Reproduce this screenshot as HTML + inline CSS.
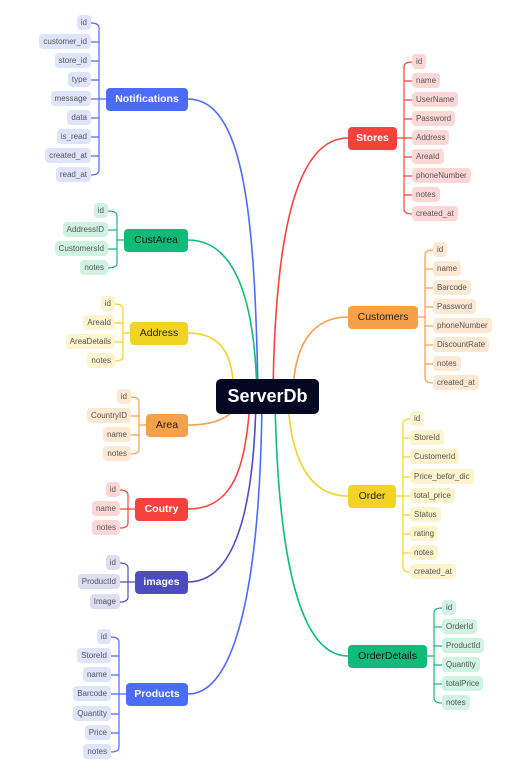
<!DOCTYPE html>
<html><head><meta charset="utf-8"><style>
body{margin:0;width:514px;height:781px;background:#fff;position:relative;overflow:hidden;font-family:"Liberation Sans",sans-serif}
svg{position:absolute;left:0;top:0}
.n{position:absolute;height:23px;line-height:23px;border-radius:4px;font-size:10.5px;font-weight:bold;text-align:center}
.l{position:absolute;height:15px;line-height:15px;border-radius:4px;font-size:8px;color:#555;padding:0 4px;white-space:nowrap}
.b{background:#dfe4fd}.g{background:#cff2e3}.y{background:#fdf3cc}.o{background:#fde8d4}.r{background:#fdd7d6}.i{background:#dddcf1}
</style></head><body>
<svg width="514" height="781" fill="none" stroke-width="1.6">
<path d="M188,99 C245,99 255,220 258,395" stroke="#4b6bfb"/>
<path d="M188,240 C235,240 255,300 257,395" stroke="#10bb7a"/>
<path d="M188,333 C222,333 232,355 234,390" stroke="#f2d324"/>
<path d="M348,138 C300,138 275,220 273,395" stroke="#f6423c"/>
<path d="M348,317 C312,317 295,345 293,390" stroke="#f5a04a"/>
<path d="M188,425 C215,425 228,418 240,405" stroke="#f5a04a"/>
<path d="M188,509 C232,509 246,470 250,400" stroke="#f6423c"/>
<path d="M188,582 C238,582 254,500 256,400" stroke="#4d4bc0"/>
<path d="M188,694 C232,694 260,600 262,400" stroke="#4b6bfb"/>
<path d="M348,496 C305,496 290,450 288,400" stroke="#f2d324"/>
<path d="M348,656 C300,656 278,560 275,400" stroke="#10bb7a"/>
<g stroke-width="1.2">
<path d="M106,99H99M91,23Q99,23 99,28V170Q99,175 91,175M91,42H99M91,61H99M91,80H99M91,99H99M91,118H99M91,137H99M91,156H99" stroke="#4b6bfb"/>
<path d="M124,240H117M108,211Q117,211 117,216V263Q117,268 108,268M108,230H117M108,249H117" stroke="#10bb7a"/>
<path d="M130,333H123M115,304Q123,304 123,309V356Q123,361 115,361M115,323H123M115,342H123" stroke="#f2d324"/>
<path d="M146,425H139M131,397Q139,397 139,402V449Q139,454 131,454M131,416H139M131,435H139" stroke="#f5a04a"/>
<path d="M135,509H128M120,490Q128,490 128,495V523Q128,528 120,528M120,509H128" stroke="#f6423c"/>
<path d="M135,582H128M120,563Q128,563 128,568V597Q128,602 120,602M120,582H128" stroke="#4d4bc0"/>
<path d="M126,694H119M111,637Q119,637 119,642V747Q119,752 111,752M111,656H119M111,675H119M111,694H119M111,714H119M111,733H119" stroke="#4b6bfb"/>
<path d="M397,138H404M412,62Q404,62 404,67V209Q404,214 412,214M412,81H404M412,100H404M412,119H404M412,138H404M412,157H404M412,176H404M412,195H404" stroke="#f6423c"/>
<path d="M418,317H425M433,250Q425,250 425,255V378Q425,383 433,383M433,269H425M433,288H425M433,307H425M433,326H425M433,345H425M433,364H425" stroke="#f5a04a"/>
<path d="M396,496H403M410,419Q403,419 403,424V567Q403,572 410,572M410,438H403M410,457H403M410,477H403M410,496H403M410,515H403M410,534H403M410,553H403" stroke="#f2d324"/>
<path d="M427,656H434M442,608Q434,608 434,613V698Q434,703 442,703M442,627H434M442,646H434M442,665H434M442,684H434" stroke="#10bb7a"/>
</g>
</svg>
<div class="n" style="left:216px;top:379px;width:103px;height:35px;line-height:35px;background:#050823;color:#fff;font-size:18px;border-radius:5px">ServerDb</div>
<div class="n" style="left:106px;top:88px;width:82px;background:#4b6bfb;color:#fff">Notifications</div>
<div class="n" style="left:124px;top:229px;width:64px;background:#10bb7a;color:#111;font-weight:normal">CustArea</div>
<div class="n" style="left:130px;top:322px;width:58px;background:#f2d324;color:#222;font-weight:normal">Address</div>
<div class="n" style="left:146px;top:414px;width:42px;background:#f5a04a;color:#222;font-weight:normal">Area</div>
<div class="n" style="left:135px;top:498px;width:53px;background:#f6423c;color:#fff">Coutry</div>
<div class="n" style="left:135px;top:571px;width:53px;background:#4d4bc0;color:#fff">images</div>
<div class="n" style="left:126px;top:683px;width:62px;background:#4b6bfb;color:#fff">Products</div>
<div class="n" style="left:348px;top:127px;width:49px;background:#f6423c;color:#fff">Stores</div>
<div class="n" style="left:348px;top:306px;width:70px;background:#f5a04a;color:#222;font-weight:normal">Customers</div>
<div class="n" style="left:348px;top:485px;width:48px;background:#f2d324;color:#222;font-weight:normal">Order</div>
<div class="n" style="left:348px;top:645px;width:79px;background:#10bb7a;color:#111;font-weight:normal">OrderDetails</div>

<div class="l b" style="right:423px;top:15px">id</div>
<div class="l b" style="right:423px;top:34px">customer_id</div>
<div class="l b" style="right:423px;top:53px">store_id</div>
<div class="l b" style="right:423px;top:72px">type</div>
<div class="l b" style="right:423px;top:91px">message</div>
<div class="l b" style="right:423px;top:110px">data</div>
<div class="l b" style="right:423px;top:129px">is_read</div>
<div class="l b" style="right:423px;top:148px">created_at</div>
<div class="l b" style="right:423px;top:167px">read_at</div>

<div class="l g" style="right:406px;top:203px">id</div>
<div class="l g" style="right:406px;top:222px">AddressID</div>
<div class="l g" style="right:406px;top:241px">CustomersId</div>
<div class="l g" style="right:406px;top:260px">notes</div>

<div class="l y" style="right:399px;top:296px">id</div>
<div class="l y" style="right:399px;top:315px">AreaId</div>
<div class="l y" style="right:399px;top:334px">AreaDetails</div>
<div class="l y" style="right:399px;top:353px">notes</div>

<div class="l o" style="right:383px;top:389px">id</div>
<div class="l o" style="right:383px;top:408px">CountryID</div>
<div class="l o" style="right:383px;top:427px">name</div>
<div class="l o" style="right:383px;top:446px">notes</div>

<div class="l r" style="right:394px;top:482px">id</div>
<div class="l r" style="right:394px;top:501px">name</div>
<div class="l r" style="right:394px;top:520px">notes</div>

<div class="l i" style="right:394px;top:555px">id</div>
<div class="l i" style="right:394px;top:574px">ProductId</div>
<div class="l i" style="right:394px;top:594px">Image</div>

<div class="l b" style="right:403px;top:629px">id</div>
<div class="l b" style="right:403px;top:648px">StoreId</div>
<div class="l b" style="right:403px;top:667px">name</div>
<div class="l b" style="right:403px;top:686px">Barcode</div>
<div class="l b" style="right:403px;top:706px">Quantity</div>
<div class="l b" style="right:403px;top:725px">Price</div>
<div class="l b" style="right:403px;top:744px">notes</div>

<div class="l r" style="left:412px;top:54px">id</div>
<div class="l r" style="left:412px;top:73px">name</div>
<div class="l r" style="left:412px;top:92px">UserName</div>
<div class="l r" style="left:412px;top:111px">Password</div>
<div class="l r" style="left:412px;top:130px">Address</div>
<div class="l r" style="left:412px;top:149px">AreaId</div>
<div class="l r" style="left:412px;top:168px">phoneNumber</div>
<div class="l r" style="left:412px;top:187px">notes</div>
<div class="l r" style="left:412px;top:206px">created_at</div>

<div class="l o" style="left:433px;top:242px">id</div>
<div class="l o" style="left:433px;top:261px">name</div>
<div class="l o" style="left:433px;top:280px">Barcode</div>
<div class="l o" style="left:433px;top:299px">Password</div>
<div class="l o" style="left:433px;top:318px">phoneNumber</div>
<div class="l o" style="left:433px;top:337px">DiscountRate</div>
<div class="l o" style="left:433px;top:356px">notes</div>
<div class="l o" style="left:433px;top:375px">created_at</div>

<div class="l y" style="left:410px;top:411px">id</div>
<div class="l y" style="left:410px;top:430px">StoreId</div>
<div class="l y" style="left:410px;top:449px">CustomerId</div>
<div class="l y" style="left:410px;top:469px">Price_befor_dic</div>
<div class="l y" style="left:410px;top:488px">total_price</div>
<div class="l y" style="left:410px;top:507px">Status</div>
<div class="l y" style="left:410px;top:526px">rating</div>
<div class="l y" style="left:410px;top:545px">notes</div>
<div class="l y" style="left:410px;top:564px">created_at</div>

<div class="l g" style="left:442px;top:600px">id</div>
<div class="l g" style="left:442px;top:619px">OrderId</div>
<div class="l g" style="left:442px;top:638px">ProductId</div>
<div class="l g" style="left:442px;top:657px">Quantity</div>
<div class="l g" style="left:442px;top:676px">totalPrice</div>
<div class="l g" style="left:442px;top:695px">notes</div>
</body></html>
